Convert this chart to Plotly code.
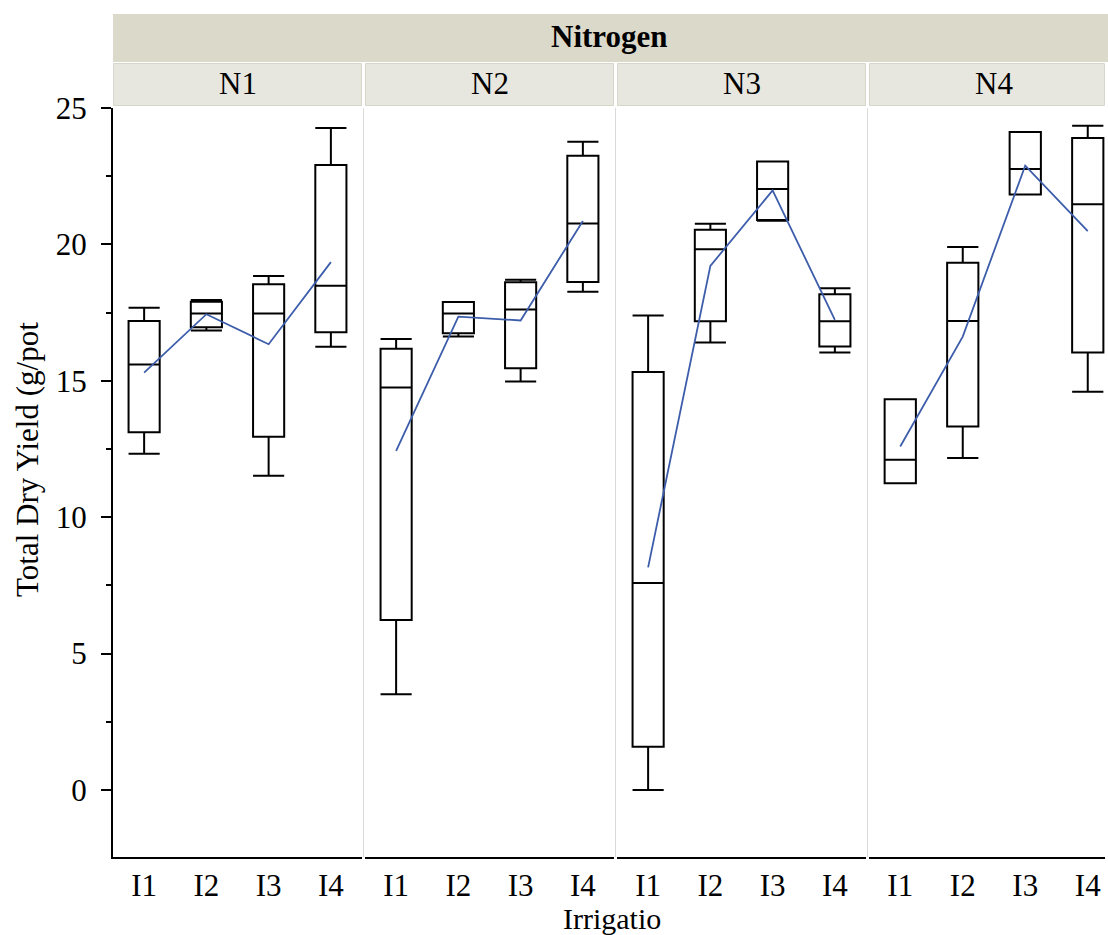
import plotly.graph_objects as go

# ---------------- data ----------------
irrigation = ["I1", "I2", "I3", "I4"]
nitrogen = ["N1", "N2", "N3", "N4"]

lower_whisker = {
    "N1": [12.32, 16.84, 11.52, 16.25],
    "N2": [3.51, 16.62, 14.97, 18.26],
    "N3": [0.00, 16.40, 20.87, 16.04],
    "N4": [11.24, 12.17, 21.83, 14.60],
}
q1 = {
    "N1": [13.11, 16.96, 12.95, 16.78],
    "N2": [6.23, 16.74, 15.46, 18.62],
    "N3": [1.58, 17.18, 20.89, 16.26],
    "N4": [11.24, 13.32, 21.83, 16.04],
}
median = {
    "N1": [15.60, 17.47, 17.47, 18.48],
    "N2": [14.75, 17.47, 17.61, 20.77],
    "N3": [7.59, 19.82, 22.03, 17.18],
    "N4": [12.10, 17.19, 22.76, 21.47],
}
q3 = {
    "N1": [17.19, 17.90, 18.54, 22.91],
    "N2": [16.17, 17.89, 18.61, 23.25],
    "N3": [15.32, 20.54, 23.04, 18.17],
    "N4": [14.32, 19.33, 24.12, 23.90],
}
upper_whisker = {
    "N1": [17.68, 17.96, 18.84, 24.27],
    "N2": [16.53, 17.89, 18.70, 23.76],
    "N3": [17.39, 20.76, 23.04, 18.39],
    "N4": [14.32, 19.90, 24.12, 24.35],
}
mean = {
    "N1": [15.30, 17.44, 16.34, 19.35],
    "N2": [12.43, 17.35, 17.21, 20.86],
    "N3": [8.16, 19.21, 21.98, 17.23],
    "N4": [12.59, 16.62, 22.89, 20.49],
}

y_ticks = [0, 5, 10, 15, 20, 25]
y_title = "Total Dry Yield (g/pot"
x_title = "Irrigatio"
group_title = "Nitrogen"

# ---------------- layout geometry ----------------
W, H = 1108, 935
L, R, T, B = 113, 3, 108, 78
PW = W - L - R
PH = H - T - B
FONT = "Liberation Serif"
FS = 31

def px_x(p):
    return (p - L) / PW

def px_y(p):
    return 1 - (p - T) / PH

panel_px = [(113, 362), (365, 614), (617, 866), (869, 1105)]
x_ranges = [[-0.5, 3.5], [-0.5, 3.5], [-0.5, 3.5], [-0.5, 3.276]]

fig = go.Figure()

for i, n in enumerate(nitrogen):
    ax = "x" if i == 0 else f"x{i+1}"
    fig.add_trace(go.Box(
        x=irrigation, q1=q1[n], median=median[n], q3=q3[n],
        lowerfence=lower_whisker[n], upperfence=upper_whisker[n],
        xaxis=ax, yaxis="y",
        fillcolor="white", line=dict(color="black", width=2),
        width=0.5, whiskerwidth=1, boxpoints=False, showlegend=False,
    ))
    fig.add_trace(go.Scatter(
        x=irrigation, y=mean[n], mode="lines", xaxis=ax, yaxis="y",
        line=dict(color="#3D5DAB", width=1.8), showlegend=False,
    ))

layout = dict(
    width=W, height=H,
    margin=dict(l=L, r=R, t=T, b=B),
    paper_bgcolor="white", plot_bgcolor="white",
    font=dict(family=FONT, size=FS, color="black"),
    showlegend=False,
)

for i in range(4):
    key = "xaxis" if i == 0 else f"xaxis{i+1}"
    d0, d1 = panel_px[i]
    layout[key] = dict(
        domain=[px_x(d0), px_x(d1)], anchor="y",
        range=x_ranges[i], type="category",
        categoryorder="array", categoryarray=irrigation,
        showline=True, linecolor="black", linewidth=2,
        showgrid=False, zeroline=False, ticks="",
        tickfont=dict(family=FONT, size=FS, color="black"),
        fixedrange=True,
    )

layout["yaxis"] = dict(
    domain=[0, 1], anchor="x", range=[-2.46, 25],
    tickvals=y_ticks, ticks="outside", ticklen=10, tickwidth=2, tickcolor="black",
    showline=True, linecolor="black", linewidth=2,
    showgrid=False, zeroline=False,
    minor=dict(dtick=2.5, tick0=0, ticks="outside", ticklen=5, tickwidth=2, tickcolor="black"),
    tickfont=dict(family=FONT, size=FS, color="black"),
    ticklabelstandoff=8,
)

shapes = []
# separators between panels
for xs in [363.5, 615.5, 867.5]:
    shapes.append(dict(type="line", xref="paper", yref="paper",
                       x0=px_x(xs), x1=px_x(xs), y0=0, y1=1,
                       line=dict(color="#D9D9D9", width=1), layer="below"))
# top strip
shapes.append(dict(type="rect", xref="paper", yref="paper",
                   x0=px_x(113), x1=px_x(1108), y0=px_y(62), y1=px_y(14),
                   fillcolor="#DBD9CA", line=dict(width=0), layer="below"))
annotations = [dict(text="<b>" + group_title + "</b>", xref="paper", yref="paper",
                    x=px_x(609), y=px_y(37), showarrow=False,
                    font=dict(family=FONT, size=FS, color="black"),
                    xanchor="center", yanchor="middle")]
for i, n in enumerate(nitrogen):
    d0, d1 = panel_px[i]
    shapes.append(dict(type="rect", xref="paper", yref="paper",
                       x0=px_x(d0 + 0.5), x1=px_x(d1 - 0.5), y0=px_y(105.5), y1=px_y(63.5),
                       fillcolor="#E7E7DF", line=dict(color="#D6D6CB", width=1), layer="below"))
    cx = (d0 + d1) / 2 if i < 3 else (869 + 1119) / 2
    annotations.append(dict(text=n, xref="paper", yref="paper",
                            x=px_x(cx), y=px_y(83), showarrow=False,
                            font=dict(family=FONT, size=FS, color="black"),
                            xanchor="center", yanchor="middle"))

annotations.append(dict(text=y_title, xref="paper", yref="paper",
                        x=px_x(27), y=px_y(460), showarrow=False, textangle=-90,
                        font=dict(family=FONT, size=FS, color="black"),
                        xanchor="center", yanchor="middle"))
annotations.append(dict(text=x_title, xref="paper", yref="paper",
                        x=px_x(561), y=px_y(937), showarrow=False,
                        font=dict(family=FONT, size=30, color="black"),
                        xanchor="left", yanchor="bottom"))

layout["shapes"] = shapes
layout["annotations"] = annotations
fig.update_layout(**layout)

fig.write_html("out.html")
